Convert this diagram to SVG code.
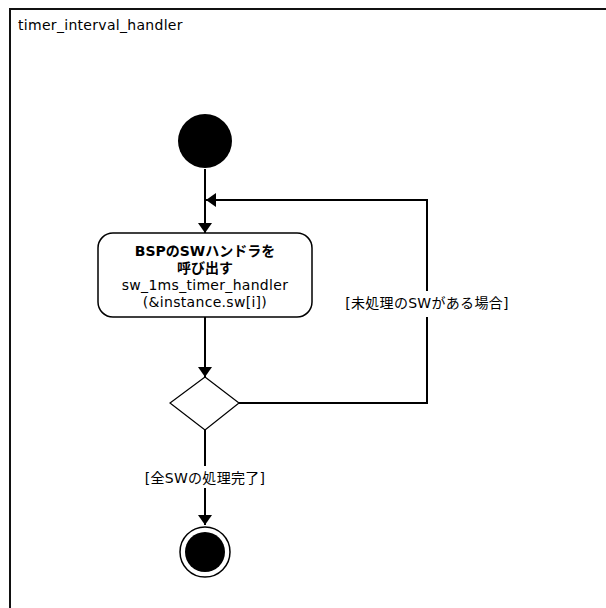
<svg xmlns="http://www.w3.org/2000/svg" width="606" height="608" viewBox="0 0 606 608">
<defs>
<marker id="arr" viewBox="0 0 10 14" refX="10" refY="7" markerWidth="10" markerHeight="14" markerUnits="userSpaceOnUse" orient="auto">
<path d="M0,0 L10,7 L0,14 Z" fill="#000"/>
</marker>
<style>
.t{font-family:"DejaVu Sans","Noto Sans CJK JP",sans-serif;font-size:14px;letter-spacing:0.3px;fill:#000}
.b{font-weight:bold;letter-spacing:0}
.ln{stroke:#000;stroke-width:2;fill:none}
</style>
</defs>
<rect width="606" height="608" fill="#fff"/>
<g id="frame">
<path d="M10,608 V9 H606" fill="none" stroke="#111" stroke-width="2"/>
<text class="t" x="18" y="30">timer_interval_handler</text>
</g>
<g id="connectors">
<line class="ln" x1="205" y1="169" x2="205" y2="233" marker-end="url(#arr)"/>
<line class="ln" x1="205" y1="317" x2="205" y2="377" marker-end="url(#arr)"/>
<polyline class="ln" points="239,403 427,403 427,200 206,200" marker-end="url(#arr)"/>
<line class="ln" x1="205" y1="430" x2="205" y2="525" marker-end="url(#arr)"/>
<rect x="338" y="291" width="178" height="26" fill="#fff"/>
<text class="t" x="427" y="308" text-anchor="middle">[未処理のSWがある場合]</text>
<rect x="138" y="466" width="134" height="22" fill="#fff"/>
<text class="t" x="205" y="483" text-anchor="middle">[全SWの処理完了]</text>
</g>
<g id="start">
<circle cx="205" cy="141" r="27" fill="#000"/>
</g>
<g id="action">
<rect x="98" y="233" width="214" height="84" rx="15" ry="15" fill="#fff" stroke="#000" stroke-width="1.5"/>
<text class="t b" x="205" y="256" text-anchor="middle">BSPのSWハンドラを</text>
<text class="t b" x="205" y="273" text-anchor="middle">呼び出す</text>
<text class="t" x="205" y="290" text-anchor="middle">sw_1ms_timer_handler</text>
<text class="t" x="205" y="307" text-anchor="middle">(&amp;instance.sw[i])</text>
</g>
<g id="decision">
<polygon points="205,377 239,403 205,430 170,403" fill="#fff" stroke="#000" stroke-width="1.2"/>
</g>
<g id="end">
<circle cx="205" cy="552" r="25" fill="#fff" stroke="#000" stroke-width="1.5"/>
<circle cx="205" cy="552" r="20" fill="#000"/>
</g>
</svg>
